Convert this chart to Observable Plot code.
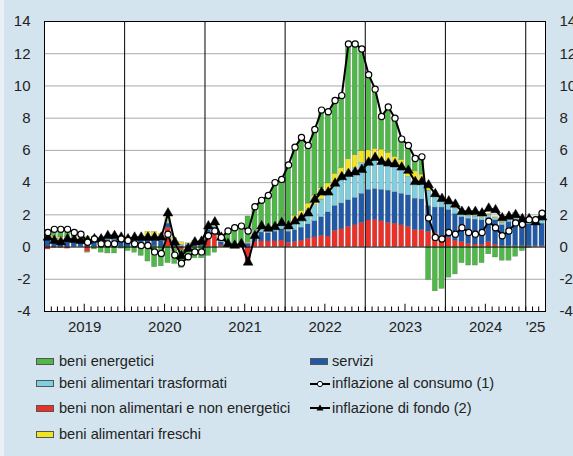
<!DOCTYPE html>
<html><head><meta charset="utf-8">
<script src="https://cdn.jsdelivr.net/npm/d3@7"></script>
<script src="https://cdn.jsdelivr.net/npm/@observablehq/plot@0.6"></script>
<style>
html,body{margin:0;padding:0;background:#fff;}
#fig{position:relative;width:573px;height:456px;background:#d3e4ee;overflow:hidden;font-family:"Liberation Sans",Arial,sans-serif;color:#222;}
#strip{position:absolute;left:0;top:0;width:4px;height:456px;background:#e9f1f6;}
#chart{position:absolute;left:0;top:0;}
.leg{position:absolute;font-size:14.6px;line-height:16px;white-space:nowrap;color:#222;}
.sw{position:absolute;width:18px;height:7px;border:1px solid #555;box-sizing:border-box;}
.sym{position:absolute;}
</style></head>
<body><div id="fig"><div id="chart"></div><div id="legend"></div><div id="strip"></div></div>
<script>
// ---- data ----
const startMonth = new Date(Date.UTC(2019, 0, 1));
const endMonth = new Date(Date.UTC(2025, 3, 1));
const months = d3.utcMonth.range(startMonth, endMonth); // Jan 2019 .. Mar 2025

const seriesNames = ["beni non alimentari e non energetici", "servizi", "beni alimentari trasformati", "beni alimentari freschi", "beni energetici"];
const seriesColors = ["#ec3027", "#1f59a7", "#7ecfe0", "#f0e51e", "#4fb848"];

const nonAlimentari = [
  -0.15,-0.05,-0.05,-0.1,0.0,0.0,-0.3,0.0,0.0,0.05,0.05,0.0,
  0.0,0.0,0.05,0.1,0.05,0.0,1.2,-0.1,-0.2,0.0,0.0,0.05,
  0.8,0.95,0.1,0.05,0.05,0.05,-0.9,0.3,0.35,0.35,0.35,0.4,
  0.25,0.3,0.4,0.5,0.6,0.7,0.65,1.0,1.1,1.25,1.35,1.5,
  1.65,1.7,1.6,1.5,1.45,1.35,1.25,1.05,1.05,0.95,0.85,0.7,
  0.55,0.4,0.3,0.2,0.15,0.15,0.3,0.15,0.05,0.05,0.05,0.05,
  0.05,0.05,0.05];
const servizi = [
  0.5,0.4,0.4,0.5,0.45,0.4,0.45,0.45,0.4,0.4,0.4,0.4,
  0.45,0.4,0.4,0.35,0.35,0.35,0.25,0.25,0.05,0.1,0.15,0.2,
  0.25,0.25,0.2,0.1,0.05,0.1,0.2,0.5,0.55,0.5,0.6,0.7,
  0.7,0.75,0.8,0.9,1.0,1.15,1.5,1.55,1.6,1.65,1.7,1.8,
  1.9,1.9,1.95,2.0,1.95,1.95,1.95,1.95,1.9,1.6,1.6,1.75,
  1.75,1.65,1.55,1.55,1.55,1.5,1.5,1.5,1.3,1.5,1.65,1.3,
  1.35,1.3,1.4];
const alimTrasformati = [
  0.1,0.1,0.1,0.1,0.1,0.1,0.1,0.1,0.1,0.1,0.1,0.1,
  0.1,0.1,0.1,0.15,0.15,0.15,0.15,0.15,0.1,0.1,0.1,0.1,
  0.1,0.1,0.05,0.05,0.05,0.05,0.05,0.2,0.25,0.25,0.25,0.25,
  0.35,0.55,0.7,0.85,1.0,1.1,1.15,1.4,1.5,1.8,1.85,1.9,
  1.85,1.95,1.9,1.8,1.65,1.55,1.15,1.1,1.0,0.95,0.7,0.45,
  0.4,0.35,0.25,0.2,0.2,0.2,0.2,0.15,0.15,0.2,0.25,0.2,
  0.25,0.25,0.25];
const alimFreschi = [
  0.1,0.15,0.1,0.05,0.05,0.1,0.1,0.1,0.05,0.05,0.05,0.1,
  0.1,0.05,0.1,0.35,0.4,0.3,0.2,0.15,0.15,0.05,0.15,0.05,
  0.1,0.05,0.05,0.05,0.0,0.0,0.05,0.05,0.05,0.1,0.1,0.2,
  0.2,0.35,0.35,0.45,0.6,0.7,0.65,0.6,0.7,0.75,0.8,0.75,
  0.6,0.55,0.6,0.55,0.55,0.55,0.4,0.6,0.55,0.35,0.2,0.2,
  0.1,0.1,0.1,0.1,0.05,0.05,0.05,0.05,0.05,0.1,0.15,0.1,
  0.1,0.1,0.15];
const energetici = [
  0.35,0.5,0.55,0.55,0.3,0.2,-0.05,-0.15,-0.35,-0.4,-0.4,-0.1,
  -0.25,-0.35,-0.55,-0.9,-1.25,-1.2,-1.0,-0.95,-1.1,-0.85,-0.7,-0.7,
  -0.55,-0.35,0.2,0.75,1.05,1.1,1.6,1.45,1.7,2.0,2.7,2.65,
  3.6,4.25,4.55,3.6,4.1,4.85,4.45,4.55,4.5,7.15,6.9,6.35,
  4.7,3.7,2.05,2.85,2.4,1.3,1.55,0.8,1.1,-2.05,-2.75,-2.6,
  -1.9,-1.7,-1.0,-1.15,-1.15,-1.0,-0.45,-0.65,-0.85,-0.85,-0.6,-0.25,
  -0.05,0.0,0.25];
const inflazioneConsumo = [
  0.9,1.1,1.1,1.1,0.9,0.8,0.3,0.5,0.2,0.2,0.2,0.5,
  0.4,0.2,0.1,0.1,-0.3,-0.4,0.8,-0.5,-1.0,-0.6,-0.3,-0.3,
  0.7,1.0,0.6,1.0,1.2,1.3,1.0,2.5,2.9,3.2,4.0,4.2,
  5.1,6.2,6.8,6.3,7.3,8.5,8.4,9.1,9.4,12.6,12.6,12.3,
  10.7,9.8,8.1,8.7,8.0,6.7,6.3,5.5,5.6,1.8,0.6,0.5,
  0.9,0.8,1.2,0.9,0.8,0.9,1.6,1.2,0.7,1.0,1.5,1.4,
  1.7,1.7,2.1];
const inflazioneFondo = [
  0.6,0.4,0.3,0.5,0.45,0.4,0.4,0.5,0.5,0.7,0.7,0.6,
  0.5,0.6,0.6,0.6,0.6,0.6,2.1,0.3,-0.55,-0.1,0.3,0.35,
  1.3,1.55,0.6,0.2,0.1,0.2,-0.95,0.7,1.3,1.15,1.25,1.5,
  1.3,1.6,1.8,2.1,2.95,3.4,3.4,3.95,4.35,4.55,4.65,4.8,
  5.25,5.55,5.3,5.2,5.15,4.95,4.75,4.05,4.05,3.85,3.3,3.0,
  2.85,2.65,2.2,2.2,2.2,2.1,2.4,2.3,1.8,1.9,2.0,1.75,
  1.75,1.55,1.85];
const yTicks = [-4,-2,0,2,4,6,8,10,12,14];
const yearLabels = ["2019","2020","2021","2022","2023","2024","'25"];
const lineLabels = ["inflazione al consumo (1)", "inflazione di fondo (2)"];

// ---- build tables ----
const seriesValues = [nonAlimentari, servizi, alimTrasformati, alimFreschi, energetici];
const barRows = [];
seriesNames.forEach((name, k) => months.forEach((m, i) => barRows.push({date: m, series: name, value: seriesValues[k][i]})));
const mid = m => new Date((+m + +d3.utcMonth.offset(m, 1)) / 2);
const headRows = months.map((m, i) => ({date: mid(m), value: inflazioneConsumo[i]}));
const coreRows = months.map((m, i) => ({date: mid(m), value: inflazioneFondo[i]}));
const yearStarts = d3.utcYear.range(startMonth, endMonth);
const labelRows = yearStarts.map((y, i) => {
  const e = new Date(Math.min(+d3.utcYear.offset(y, 1), +endMonth));
  return {date: new Date((+y + +e) / 2), text: yearLabels[i]};
});

const chart = Plot.plot({
  width: 573, height: 340,
  marginLeft: 44, marginRight: 28, marginTop: 21, marginBottom: 29,
  x: {type: "utc", domain: [startMonth, endMonth], axis: null},
  y: {domain: [-4, 14], label: null},
  color: {domain: seriesNames, range: seriesColors},
  style: {background: "transparent", fontFamily: "'Liberation Sans', Arial, sans-serif", fontSize: "15px", color: "#222", overflow: "visible"},
  marks: [
    Plot.frame({fill: "white"}),
    Plot.ruleY(yTicks.filter(v => v !== 0 && v !== -4 && v !== 14), {stroke: "#a9a9a9", strokeWidth: 1}),
    Plot.rectY(barRows, {x: "date", y: "value", interval: d3.utcMonth, fill: "series", order: seriesNames,
      insetLeft: 0.8, insetRight: 0.8, stroke: "#555", strokeWidth: 0.4, strokeOpacity: 0.55}),
    Plot.ruleY([0], {stroke: "black", strokeWidth: 1}),
    Plot.ruleX(yearStarts.slice(1), {stroke: "black", strokeWidth: 1}),
    Plot.ruleX(months.slice(1), {x: d => d, y1: -4, y2: d => d.getUTCMonth() === 6 ? -3.55 : -3.72, stroke: "black", strokeWidth: 1}),
    Plot.line(coreRows, {x: "date", y: "value", stroke: "black", strokeWidth: 2}),
    Plot.line(headRows, {x: "date", y: "value", stroke: "black", strokeWidth: 2}),
    Plot.dot(coreRows, {x: "date", y: "value", symbol: "triangle", r: 3.6, fill: "black", stroke: "black", strokeWidth: 0.5}),
    Plot.dot(headRows, {x: "date", y: "value", r: 3.1, fill: "white", stroke: "black", strokeWidth: 1.2}),
    Plot.frame({stroke: "black", strokeWidth: 1}),
    Plot.axisY({anchor: "left", ticks: yTicks, tickSize: 0, tickPadding: 14, tickFormat: d => String(d), fontSize: 15, label: null}),
    Plot.axisY({anchor: "right", ticks: yTicks, tickSize: 0, tickPadding: 14, tickFormat: d => String(d), fontSize: 15, label: null}),
    Plot.text(labelRows, {x: "date", y: () => -4, dy: 16, text: "text", fontSize: 15, fill: "#222"})
  ]
});
document.getElementById("chart").appendChild(chart);

// ---- legend ----
const legend = document.getElementById("legend");
const rowY = [361, 383.5, 408, 434];
const col1 = [4, 2, 0, 3]; // series indices in legend order, column 1
col1.forEach((k, r) => {
  const sw = document.createElement("div");
  sw.className = "sw"; sw.style.left = "36px"; sw.style.top = (rowY[r] - 3.5) + "px"; sw.style.background = seriesColors[k];
  legend.appendChild(sw);
  const t = document.createElement("div");
  t.className = "leg"; t.style.left = "59px"; t.style.top = (rowY[r] - 8.5) + "px"; t.textContent = seriesNames[k];
  legend.appendChild(t);
});
// column 2
{
  const sw = document.createElement("div");
  sw.className = "sw"; sw.style.left = "310px"; sw.style.top = (rowY[0] - 3.5) + "px"; sw.style.background = seriesColors[1];
  legend.appendChild(sw);
  const t = document.createElement("div");
  t.className = "leg"; t.style.left = "332px"; t.style.top = (rowY[0] - 8.5) + "px"; t.textContent = seriesNames[1];
  legend.appendChild(t);
}
lineLabels.forEach((lab, j) => {
  const y = rowY[j + 1];
  const ns = "http://www.w3.org/2000/svg";
  const s = document.createElementNS(ns, "svg");
  s.setAttribute("width", 22); s.setAttribute("height", 10);
  s.setAttribute("class", "sym");
  s.style.left = "309px"; s.style.top = (y - 5) + "px";
  const ln = document.createElementNS(ns, "line");
  ln.setAttribute("x1", 1); ln.setAttribute("x2", 21); ln.setAttribute("y1", 5); ln.setAttribute("y2", 5);
  ln.setAttribute("stroke", "black"); ln.setAttribute("stroke-width", 2);
  s.appendChild(ln);
  if (j === 0) {
    const c = document.createElementNS(ns, "circle");
    c.setAttribute("cx", 11); c.setAttribute("cy", 5); c.setAttribute("r", 2.6);
    c.setAttribute("fill", "white"); c.setAttribute("stroke", "black"); c.setAttribute("stroke-width", 1);
    s.appendChild(c);
  } else {
    const p = document.createElementNS(ns, "path");
    p.setAttribute("d", "M11,1.5L14.5,7.5L7.5,7.5Z");
    p.setAttribute("fill", "black");
    s.appendChild(p);
  }
  legend.appendChild(s);
  const t = document.createElement("div");
  t.className = "leg"; t.style.left = "332px"; t.style.top = (y - 8.5) + "px"; t.textContent = lab;
  legend.appendChild(t);
});
</script>
</body></html>
